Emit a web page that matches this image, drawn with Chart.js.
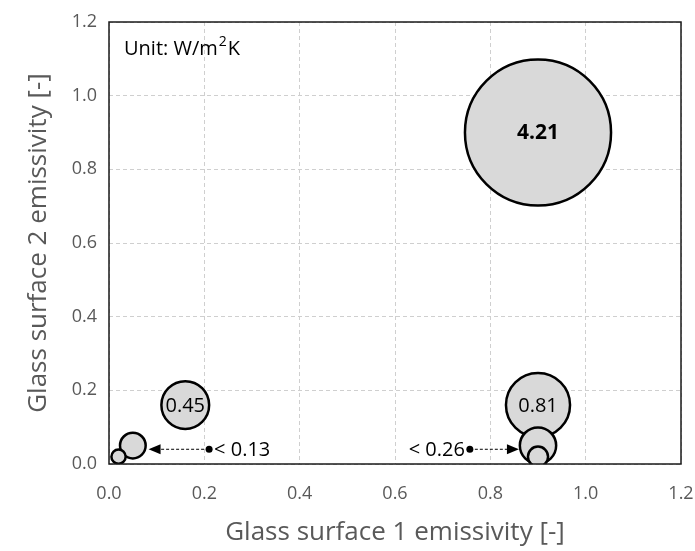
<!DOCTYPE html>
<html>
<head>
<meta charset="utf-8">
<script src="https://cdn.jsdelivr.net/npm/chart.js@4.4.1/dist/chart.umd.min.js"></script>
<style>
  html, body { margin: 0; padding: 0; background: #fff; }
  #wrap { width: 695px; height: 551px; }
</style>
</head>
<body>
<div id="wrap"><canvas id="chart"></canvas></div>
<script>
// bubbles, biggest first so the small ones sit on top
const surf1 = [0.9, 0.9, 0.16, 0.9, 0.05, 0.9, 0.02];
const surf2 = [0.9, 0.16, 0.16, 0.05, 0.05, 0.02, 0.02];
const uValue = [4.21, 0.81, 0.45, 0.26, 0.13, 0.08, 0.04];
const bubbleText = ['4.21', '0.81', '0.45', '', '', '', ''];
const boldText = [true, false, false, false, false, false, false];

// dashed arrows: start dot -> arrow tip, with a note beside the dot
const noteText = ['< 0.13', '< 0.26'];
const noteFrom = [[0.21, 0.04], [0.757, 0.04]];
const noteTo = [[0.083, 0.04], [0.86, 0.04]];
const noteSide = ['right', 'left'];

const FONT = "'Open Sans', sans-serif";
const sizeOf = (v) => 35.6 * Math.sqrt(v);

const overlay = {
  id: 'overlay',
  afterDatasetsDraw(chart) {
    const { ctx, chartArea: a, scales: { x, y } } = chart;
    ctx.save();
    // bubble labels
    ctx.fillStyle = '#000';
    ctx.textAlign = 'center';
    ctx.textBaseline = 'middle';
    bubbleText.forEach((t, i) => {
      if (!t) return;
      ctx.font = (boldText[i] ? 'bold 21px ' : '20px ') + FONT;
      ctx.fillText(t, x.getPixelForValue(surf1[i]), y.getPixelForValue(surf2[i]) + 1);
    });
    // arrows
    noteText.forEach((t, i) => {
      const x0 = x.getPixelForValue(noteFrom[i][0]);
      const y0 = y.getPixelForValue(noteFrom[i][1]);
      const x1 = x.getPixelForValue(noteTo[i][0]);
      const dir = Math.sign(x1 - x0);
      ctx.strokeStyle = '#000';
      ctx.lineWidth = 1;
      ctx.setLineDash([3, 2]);
      ctx.beginPath();
      ctx.moveTo(x0, y0);
      ctx.lineTo(x1 - dir * 10, y0);
      ctx.stroke();
      ctx.setLineDash([]);
      ctx.beginPath();
      ctx.moveTo(x1, y0);
      ctx.lineTo(x1 - dir * 12, y0 - 5);
      ctx.lineTo(x1 - dir * 12, y0 + 5);
      ctx.closePath();
      ctx.fill();
      ctx.beginPath();
      ctx.arc(x0, y0, 3.5, 0, Math.PI * 2);
      ctx.fill();
      ctx.font = '20px ' + FONT;
      ctx.fillStyle = '#000';
      if (noteSide[i] === 'right') {
        ctx.textAlign = 'left';
        ctx.fillText(t, x0 + 5, y0 + 1);
      } else {
        ctx.textAlign = 'right';
        ctx.fillText(t, x0 - 5, y0 + 1);
      }
    });
    // unit note
    ctx.textAlign = 'left';
    ctx.font = '20px ' + FONT;
    ctx.fillStyle = '#000';
    const ux = a.left + 15, uy = a.top + 27;
    ctx.fillText('Unit: W/m', ux, uy);
    const w = ctx.measureText('Unit: W/m').width;
    ctx.font = '14px ' + FONT;
    ctx.fillText('2', ux + w + 1, uy - 7);
    const w2 = ctx.measureText('2').width;
    ctx.font = '20px ' + FONT;
    ctx.fillText('K', ux + w + w2 + 2, uy);
    // plot frame
    ctx.strokeStyle = '#1a1a1a';
    ctx.lineWidth = 1.5;
    ctx.strokeRect(a.left, a.top, a.right - a.left, a.bottom - a.top);
    ctx.restore();
  },
};

new Chart(document.getElementById('chart'), {
  type: 'bubble',
  data: {
    datasets: [
      {
        label: 'U-value',
        data: surf1.map((v, i) => ({ x: v, y: surf2[i], r: sizeOf(uValue[i]) })),
        backgroundColor: '#d9d9d9',
        borderColor: '#000',
        borderWidth: 2.5,
        hoverRadius: 0,
        clip: 0,
      },
    ],
  },
  options: {
    responsive: true,
    maintainAspectRatio: false,
    animation: false,
    events: [],
    layout: { autoPadding: false, padding: { top: 22, right: 14, left: 0, bottom: 0 } },
    plugins: { legend: { display: false }, tooltip: { enabled: false } },
    scales: {
      x: {
        min: 0,
        max: 1.2,
        afterFit: (s) => {
          s.height = 87;
          s.paddingLeft = 0;
          s.paddingRight = 0;
        },
        ticks: {
          stepSize: 0.2,
          callback: (v) => v.toFixed(1),
          color: '#595959',
          font: { family: FONT, size: 18 },
          padding: 19,
          maxRotation: 0,
        },
        grid: { color: '#cfcfcf', drawTicks: false },
        border: { display: false, dash: [4, 3] },
        title: {
          display: true,
          text: 'Glass surface 1 emissivity [-]',
          color: '#595959',
          font: { family: FONT, size: 26 },
          padding: { top: 0, bottom: 3 },
        },
      },
      y: {
        min: 0,
        max: 1.2,
        afterFit: (s) => {
          s.width = 109;
          s.paddingTop = 0;
          s.paddingBottom = 0;
        },
        ticks: {
          stepSize: 0.2,
          callback: (v) => v.toFixed(1),
          color: '#595959',
          font: { family: FONT, size: 18 },
          padding: 12,
        },
        grid: { color: '#cfcfcf', drawTicks: false },
        border: { display: false, dash: [4, 3] },
        title: {
          display: true,
          text: 'Glass surface 2 emissivity [-]',
          color: '#595959',
          font: { family: FONT, size: 26 },
          padding: { top: 23, bottom: 0 },
        },
      },
    },
  },
  plugins: [overlay],
});
</script>
</body>
</html>
